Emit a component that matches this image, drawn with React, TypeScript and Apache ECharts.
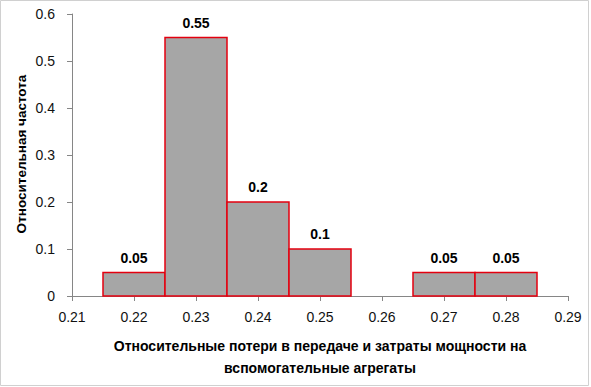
import React, { useEffect, useRef } from "react";
import * as echarts from "echarts";

const binCenters = [0.22, 0.23, 0.24, 0.25, 0.26, 0.27, 0.28];
const frequencies = [0.05, 0.55, 0.2, 0.1, 0, 0.05, 0.05];
const binWidth = 0.01;
const xTitle = ["Относительные потери в передаче и затраты мощности на", "вспомогательные агрегаты"];
const yTitle = "Относительная частота";

export default function App() {
  const ref = useRef<HTMLDivElement>(null);
  useEffect(() => {
    const chart = echarts.init(ref.current!, undefined, { renderer: "svg" });
    const font = "'Liberation Sans', Arial, sans-serif";
    chart.setOption({
      animation: false,
      backgroundColor: "#ffffff",
      grid: { left: 72, right: 23, top: 14, bottom: 91 },
      xAxis: {
        type: "value",
        min: 0.21,
        max: 0.29,
        interval: 0.01,
        axisLine: { show: true, lineStyle: { color: "#868686", width: 1 } },
        axisTick: { show: true, length: 5, lineStyle: { color: "#868686" } },
        splitLine: { show: false },
        axisLabel: {
          color: "#111",
          fontSize: 14,
          fontFamily: font,
          margin: 14,
          formatter: (v: number) => String(Math.round(v * 100) / 100),
        },
      },
      yAxis: {
        type: "value",
        min: 0,
        max: 0.6,
        interval: 0.1,
        axisLine: { show: true, lineStyle: { color: "#868686", width: 1 } },
        axisTick: { show: true, length: 5, lineStyle: { color: "#868686" } },
        splitLine: { show: false },
        axisLabel: {
          color: "#111",
          fontSize: 14,
          fontFamily: font,
          margin: 17,
          formatter: (v: number) => String(Math.round(v * 10) / 10),
        },
      },
      series: [
        {
          type: "custom",
          data: binCenters.map((c, i) => [c, frequencies[i]]),
          renderItem: (params: any, api: any) => {
            const c = api.value(0);
            const v = api.value(1);
            if (!v) return null;
            const p0 = api.coord([c - binWidth / 2, 0]);
            const p1 = api.coord([c + binWidth / 2, v]);
            return {
              type: "group",
              children: [
                {
                  type: "rect",
                  shape: { x: p0[0], y: p1[1], width: p1[0] - p0[0], height: p0[1] - p1[1] },
                  style: { fill: "#a6a6a6", stroke: "#e3000f", lineWidth: 1.5 },
                },
                {
                  type: "text",
                  x: (p0[0] + p1[0]) / 2,
                  y: p1[1] - 8,
                  style: {
                    text: String(v),
                    fill: "#000",
                    font: `bold 14px ${font}`,
                    align: "center",
                    verticalAlign: "bottom",
                  },
                },
              ],
            };
          },
        },
      ],
      graphic: [
        {
          type: "rect",
          shape: { x: 0.5, y: 0.5, width: 588, height: 385 },
          style: { fill: "none", stroke: "#d0d0d0", lineWidth: 1 },
          silent: true,
        },
        {
          type: "text",
          x: 320,
          y: 346,
          style: { text: xTitle[0], font: `bold 14px ${font}`, fill: "#000", align: "center", verticalAlign: "middle" },
        },
        {
          type: "text",
          x: 320,
          y: 368,
          style: { text: xTitle[1], font: `bold 14px ${font}`, fill: "#000", align: "center", verticalAlign: "middle" },
        },
        {
          type: "text",
          x: 21,
          y: 154,
          rotation: Math.PI / 2,
          style: { text: yTitle, font: `bold 13.5px ${font}`, fill: "#000", align: "center", verticalAlign: "middle" },
        },
      ],
    });
    return () => chart.dispose();
  }, []);
  return <div ref={ref} style={{ width: 591, height: 387, position: "absolute", left: 0, top: 0 }} />;
}
